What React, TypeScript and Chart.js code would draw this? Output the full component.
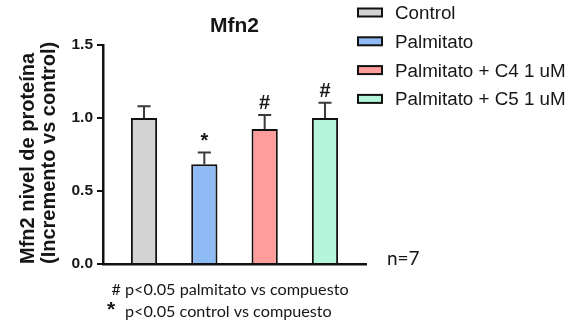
import React, { useEffect, useRef } from "react";
import { Chart, registerables } from "chart.js";

Chart.register(...registerables);

// ---- data ----
const categories = ["Control", "Palmitato", "Palmitato + C4 1 uM", "Palmitato + C5 1 uM"];
const meanValues = [1.0, 0.683, 0.925, 1.0];
const semValues = [0.08, 0.08, 0.095, 0.105];
const significance = ["", "*", "#", "#"];
const barColors = ["#d3d3d3", "#8fbbf5", "#ff9d9d", "#b4f5dc"];
const yTickValues = [0, 0.5, 1.0, 1.5];
const chartTitle = "Mfn2";
const yAxisTitle = ["Mfn2 nivel de proteína", "(Incremento vs control)"];
const footnoteLine1 = "# p<0.05 palmitato vs compuesto";
const footnoteSymbol2 = "*";
const footnoteLine2 = "p<0.05 control vs compuesto";
const sampleSizeText = "n=7";

const FONT = "'Liberation Sans', Arial, sans-serif";
const NOTE_FONT = "Lato, 'Open Sans', sans-serif";
const INK = "#161616";

const annotationsPlugin = {
  id: "annotations",
  afterDatasetsDraw(chart: any) {
    const ctx = chart.ctx;
    const meta = chart.getDatasetMeta(0);
    const yScale = chart.scales.y;
    ctx.save();
    meta.data.forEach((bar: any, i: number) => {
      const top = yScale.getPixelForValue(meanValues[i] + semValues[i]);
      const x = bar.x;
      const cap = bar.width / 4;
      ctx.strokeStyle = "#3a3a3a";
      ctx.lineWidth = 2;
      ctx.beginPath();
      ctx.moveTo(x, bar.y);
      ctx.lineTo(x, top);
      ctx.moveTo(x - cap, top);
      ctx.lineTo(x + cap, top);
      ctx.stroke();
      if (significance[i]) {
        ctx.fillStyle = INK;
        ctx.font = `bold 20px ${FONT}`;
        ctx.textAlign = "center";
        ctx.textBaseline = "alphabetic";
        ctx.fillText(significance[i], x, top - 6);
      }
    });
    ctx.restore();
  },
  afterDraw(chart: any) {
    const ctx = chart.ctx;
    const area = chart.chartArea;
    ctx.save();
    // title
    ctx.fillStyle = INK;
    ctx.font = `bold 21px ${FONT}`;
    ctx.textAlign = "center";
    ctx.textBaseline = "alphabetic";
    ctx.fillText(chartTitle, (area.left + area.right) / 2, 32);

    // legend
    ctx.textAlign = "left";
    categories.forEach((label, i) => {
      const cy = 12.5 + i * 28.8;
      ctx.fillStyle = barColors[i];
      ctx.fillRect(358, cy - 4, 24, 8);
      ctx.strokeStyle = "#111";
      ctx.lineWidth = 2;
      ctx.strokeRect(358, cy - 4, 24, 8);
      ctx.fillStyle = INK;
      ctx.font = `18.8px ${FONT}`;
      ctx.fillText(label, 395, cy + 6.5);
    });

    // footnotes
    ctx.font = `16.2px ${NOTE_FONT}`;
    ctx.fillText(footnoteLine1, 111.5, 295);
    ctx.font = `bold 21px ${FONT}`;
    ctx.fillText(footnoteSymbol2, 107, 316);
    ctx.font = `16.2px ${NOTE_FONT}`;
    ctx.fillText(footnoteLine2, 125, 317.3);

    // sample size
    ctx.font = `19px ${NOTE_FONT}`;
    ctx.fillText(sampleSizeText, 387, 265);
    ctx.restore();
  },
};

export default function App() {
  const canvasRef = useRef<HTMLCanvasElement | null>(null);

  useEffect(() => {
    const canvas = canvasRef.current;
    if (!canvas) return;
    const chart = new Chart(canvas, {
      type: "bar",
      data: {
        labels: categories,
        datasets: [
          {
            label: chartTitle,
            data: meanValues.map((v, i) => ({ x: i, y: v })),
            backgroundColor: barColors,
            borderColor: "#111",
            borderWidth: 2,
            barPercentage: 0.8,
            categoryPercentage: 0.8,
          },
        ],
      },
      options: {
        responsive: false,
        animation: false,
        devicePixelRatio: 1,
        layout: { padding: { top: 45, right: 203, bottom: 62, left: 0 } },
        plugins: {
          legend: { display: false },
          title: { display: false },
          tooltip: { enabled: false },
        },
        scales: {
          x: {
            type: "linear",
            min: -0.68,
            max: 3.68,
            offset: false,
            grid: { display: false, drawTicks: false },
            ticks: { display: false },
            border: { display: true, color: "#111", width: 2.5 },
          },
          y: {
            min: yTickValues[0],
            max: yTickValues[yTickValues.length - 1],
            afterBuildTicks: (scale: any) => {
              scale.ticks = yTickValues.map((v) => ({ value: v }));
            },
            afterFit: (scale: any) => {
              scale.width = 103;
            },
            ticks: {
              padding: 4,
              color: INK,
              font: { family: FONT, size: 15.5, weight: "bold" },
              callback: (v: any) => Number(v).toFixed(1),
            },
            grid: {
              display: true,
              drawOnChartArea: false,
              drawTicks: true,
              tickLength: 6,
              color: "#111",
              lineWidth: 2,
            },
            border: { display: true, color: "#111", width: 2.5 },
            title: {
              display: true,
              text: yAxisTitle,
              align: "start",
              color: INK,
              font: { family: FONT, size: 20, weight: "bold", lineHeight: 1.05 },
              padding: { top: 18, bottom: 0 },
            },
          },
        },
      },
      plugins: [annotationsPlugin],
    } as any);
    return () => chart.destroy();
  }, []);

  return (
    <div style={{ position: "absolute", left: 0, top: 0, width: 569, height: 326, background: "#fff" }}>
      <canvas ref={canvasRef} width={569} height={326} style={{ display: "block" }} />
    </div>
  );
}
